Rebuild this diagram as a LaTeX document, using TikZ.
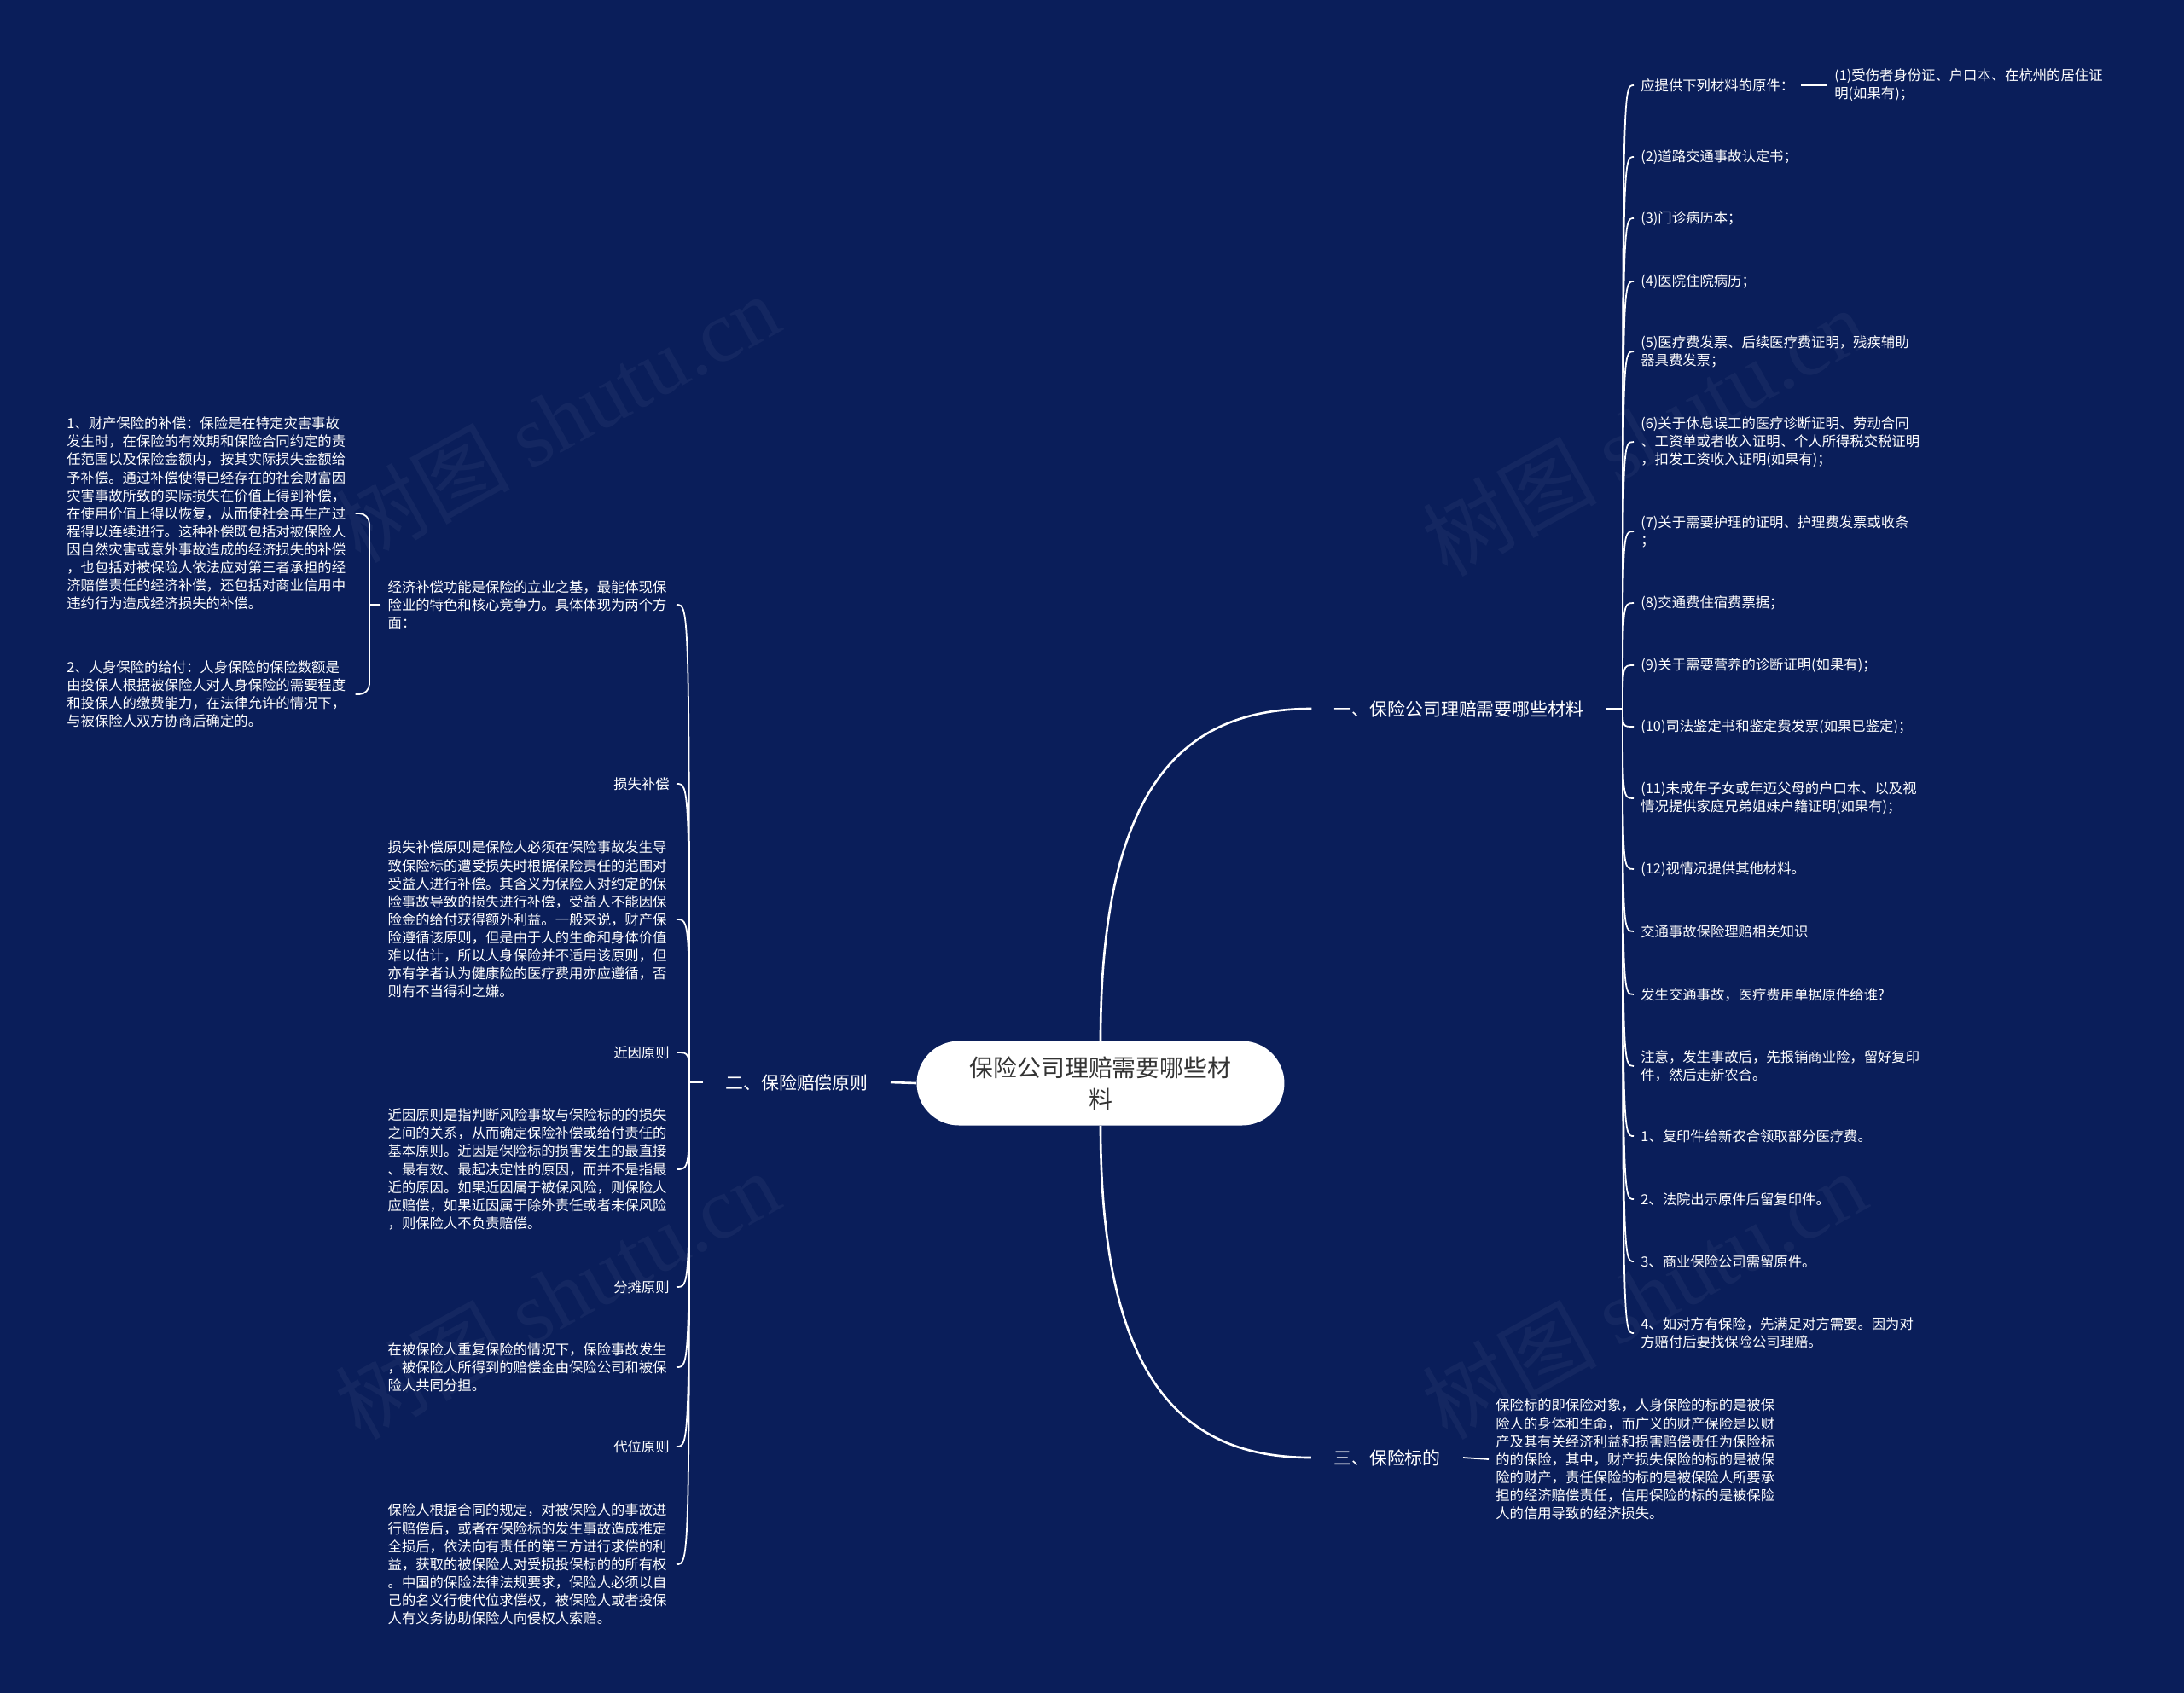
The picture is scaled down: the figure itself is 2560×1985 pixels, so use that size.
\documentclass[tikz,border=0pt]{standalone}
\usepackage{fontspec}
\setmainfont{Noto Sans CJK SC}
\newfontfamily\wmserif{Liberation Serif}
\usepackage{tikz}
\usetikzlibrary{calc}
\definecolor{mapBg}{RGB}{10,30,90}
\definecolor{mapInk}{RGB}{51,51,51}
\tikzset{
  leaf/.style={text=white, font=\fontsize{9.3}{12}\selectfont, align=left, inner xsep=0.16cm, inner ysep=1pt},
  para/.style={leaf, text width=6.6cm},
  branch/.style={text=white, font=\fontsize{11.9}{14}\selectfont, inner xsep=0.52cm, inner ysep=2pt},
  root/.style={fill=white, text=mapInk, rounded corners=0.99cm, minimum width=8.62cm, minimum height=1.98cm,
    align=center, font=\fontsize{15.9}{21.3}\selectfont},
  trunk/.style={draw=white, line width=1.5pt},
  twig/.style={draw=white, line width=1pt},
  wmtext/.style={text=white, opacity=0.045, rotate=29, font=\fontsize{58}{58}\selectfont}
}
\begin{document}
\begin{tikzpicture}[x=0.02cm, y=-0.02cm]
% ===== canvas (pixel grid, y down) =====
\fill[mapBg] (0,0) rectangle (2560,1985);
\useasboundingbox (0,0) rectangle (2560,1985);
% watermarks
\node[wmtext] (wm1) at (653,490) {树图 {\wmserif shutu.cn}};
\node[wmtext] (wm2) at (1927,506) {树图 {\wmserif shutu.cn}};
\node[wmtext] (wm3) at (653,1518) {树图 {\wmserif shutu.cn}};
\node[wmtext] (wm4) at (1927,1518) {树图 {\wmserif shutu.cn}};
% ===== root and the three main branches =====
\node[root] (ctr) at (1290,1270) {保险公司理赔需要哪些材\\料};
\node[branch] (b1) at (1710,831) {一、保险公司理赔需要哪些材料};
\node[branch] (b2) at (934,1269) {二、保险赔偿原则};
\node[branch] (b3) at (1626,1709) {三、保险标的};
\draw[trunk] (ctr.north) .. controls +(0,-300) and +(-150,0) .. (b1.west);
\draw[trunk] (ctr.south) .. controls +(0,300) and +(-150,0) .. (b3.west);
\draw[trunk] (ctr.west) -- (b2.east);
% ===== right: materials list =====
\coordinate (s1) at (1902,831);
\draw[twig] (b1.east) -- (s1);
\node[leaf, anchor=west] (c1) at (1915,100) {应提供下列材料的原件：};
\node[leaf, anchor=west] (c1a) at (2142,100) {(1)受伤者身份证、户口本、在杭州的居住证\\明(如果有)；};
\node[leaf, anchor=west] (c2) at (1915,184) {(2)道路交通事故认定书；};
\node[leaf, anchor=west] (c3) at (1915,256) {(3)门诊病历本；};
\node[leaf, anchor=west] (c4) at (1915,330) {(4)医院住院病历；};
\node[leaf, anchor=west] (c5) at (1915,412) {(5)医疗费发票、后续医疗费证明，残疾辅助\\器具费发票；};
\node[leaf, anchor=west] (c6) at (1915,518) {(6)关于休息误工的医疗诊断证明、劳动合同\\、工资单或者收入证明、个人所得税交税证明\\，扣发工资收入证明(如果有)；};
\node[leaf, anchor=west] (c7) at (1915,623) {(7)关于需要护理的证明、护理费发票或收条\\；};
\node[leaf, anchor=west] (c8) at (1915,707) {(8)交通费住宿费票据；};
\node[leaf, anchor=west] (c9) at (1915,780) {(9)关于需要营养的诊断证明(如果有)；};
\node[leaf, anchor=west] (c10) at (1915,852) {(10)司法鉴定书和鉴定费发票(如果已鉴定)；};
\node[leaf, anchor=west] (c11) at (1915,936) {(11)未成年子女或年迈父母的户口本、以及视\\情况提供家庭兄弟姐妹户籍证明(如果有)；};
\node[leaf, anchor=west] (c12) at (1915,1019) {(12)视情况提供其他材料。};
\node[leaf, anchor=west] (c13) at (1915,1092) {交通事故保险理赔相关知识};
\node[leaf, anchor=west] (c14) at (1915,1166) {发生交通事故，医疗费用单据原件给谁?};
\node[leaf, anchor=west] (c15) at (1915,1250) {注意，发生事故后，先报销商业险，留好复印\\件，然后走新农合。};
\node[leaf, anchor=west] (c16) at (1915,1332) {1、复印件给新农合领取部分医疗费。};
\node[leaf, anchor=west] (c17) at (1915,1406) {2、法院出示原件后留复印件。};
\node[leaf, anchor=west] (c18) at (1915,1479) {3、商业保险公司需留原件。};
\node[leaf, anchor=west] (c19) at (1915,1563) {4、如对方有保险，先满足对方需要。因为对\\方赔付后要找保险公司理赔。};
\foreach \n in {c1,c2,c3,c4,c5,c6,c7,c8,c9,c10,c11,c12,c13,c14,c15,c16,c17,c18,c19}
  \draw[twig] (s1) .. controls (s1 |- \n.west) .. (\n.west);
\draw[twig] (c1.east) -- (c1a.west);
% ===== left: principles =====
\coordinate (s2) at (808,1269);
\draw[twig] (b2.west) -- (s2);
\node[para, anchor=east] (d1) at (793,709) {经济补偿功能是保险的立业之基，最能体现保\\险业的特色和核心竞争力。具体体现为两个方\\面：};
\node[leaf, anchor=east] (d2) at (793,919) {损失补偿};
\node[para, anchor=east] (d3) at (793,1078) {损失补偿原则是保险人必须在保险事故发生导\\致保险标的遭受损失时根据保险责任的范围对\\受益人进行补偿。其含义为保险人对约定的保\\险事故导致的损失进行补偿，受益人不能因保\\险金的给付获得额外利益。一般来说，财产保\\险遵循该原则，但是由于人的生命和身体价值\\难以估计，所以人身保险并不适用该原则，但\\亦有学者认为健康险的医疗费用亦应遵循，否\\则有不当得利之嫌。};
\node[leaf, anchor=east] (d4) at (793,1234) {近因原则};
\node[para, anchor=east] (d5) at (793,1371) {近因原则是指判断风险事故与保险标的的损失\\之间的关系，从而确定保险补偿或给付责任的\\基本原则。近因是保险标的损害发生的最直接\\、最有效、最起决定性的原因，而并不是指最\\近的原因。如果近因属于被保风险，则保险人\\应赔偿，如果近因属于除外责任或者未保风险\\，则保险人不负责赔偿。};
\node[leaf, anchor=east] (d6) at (793,1509) {分摊原则};
\node[para, anchor=east] (d7) at (793,1603) {在被保险人重复保险的情况下，保险事故发生\\，被保险人所得到的赔偿金由保险公司和被保\\险人共同分担。};
\node[leaf, anchor=east] (d8) at (793,1696) {代位原则};
\node[para, anchor=east] (d9) at (793,1834) {保险人根据合同的规定，对被保险人的事故进\\行赔偿后，或者在保险标的发生事故造成推定\\全损后，依法向有责任的第三方进行求偿的利\\益，获取的被保险人对受损投保标的的所有权\\。中国的保险法律法规要求，保险人必须以自\\己的名义行使代位求偿权，被保险人或者投保\\人有义务协助保险人向侵权人索赔。};
\foreach \n in {d1,d2,d3,d4,d5,d6,d7,d8,d9}
  \draw[twig] (s2) .. controls (s2 |- \n.east) .. (\n.east);
% two aspects of compensation
\coordinate (s21) at (433,709);
\draw[twig] (d1.west) -- (s21);
\node[para, anchor=west] (d1a) at (70,602) {1、财产保险的补偿：保险是在特定灾害事故\\发生时，在保险的有效期和保险合同约定的责\\任范围以及保险金额内，按其实际损失金额给\\予补偿。通过补偿使得已经存在的社会财富因\\灾害事故所致的实际损失在价值上得到补偿，\\在使用价值上得以恢复，从而使社会再生产过\\程得以连续进行。这种补偿既包括对被保险人\\因自然灾害或意外事故造成的经济损失的补偿\\，也包括对被保险人依法应对第三者承担的经\\济赔偿责任的经济补偿，还包括对商业信用中\\违约行为造成经济损失的补偿。};
\node[para, anchor=west] (d1b) at (70,814) {2、人身保险的给付：人身保险的保险数额是\\由投保人根据被保险人对人身保险的需要程度\\和投保人的缴费能力，在法律允许的情况下，\\与被保险人双方协商后确定的。};
\foreach \n in {d1a,d1b}
  \draw[twig, rounded corners=0.24cm] (s21) |- (\n.east);
% ===== bottom: subject matter =====
\node[para, anchor=west] (e1) at (1745,1711) {保险标的即保险对象，人身保险的标的是被保\\险人的身体和生命，而广义的财产保险是以财\\产及其有关经济利益和损害赔偿责任为保险标\\的的保险，其中，财产损失保险的标的是被保\\险的财产，责任保险的标的是被保险人所要承\\担的经济赔偿责任，信用保险的标的是被保险\\人的信用导致的经济损失。};
\draw[twig] (b3.east) -- (e1.west);
\end{tikzpicture}
\end{document}
